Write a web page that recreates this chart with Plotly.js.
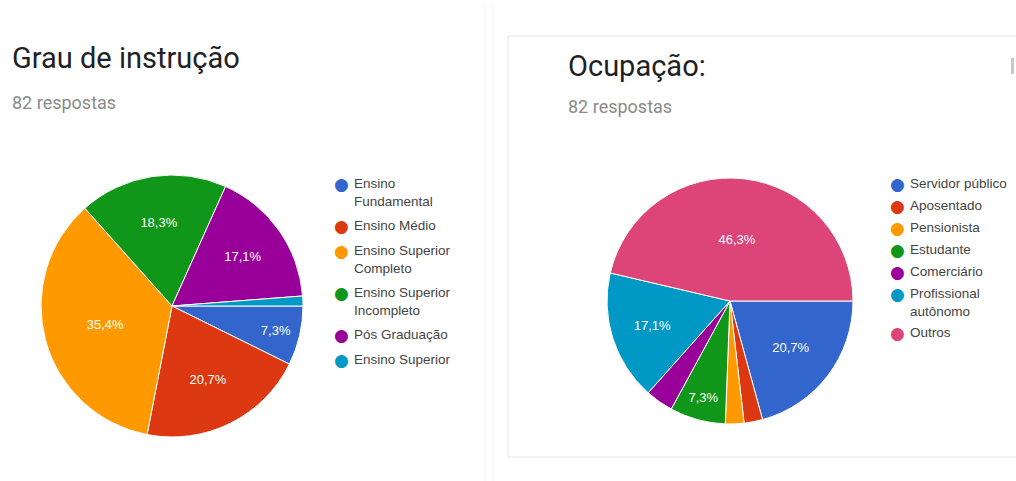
<!DOCTYPE html>
<html>
<head>
<meta charset="utf-8">
<script src="https://cdn.plot.ly/plotly-3.0.1.min.js"></script>
<style>html,body{margin:0;padding:0;background:#fff;}#chart{width:1016px;height:481px;}</style>
</head>
<body>
<div id="chart"></div>
<script>
// ---- data ----
const title1 = "Grau de instrução";
const subtitle1 = "82 respostas";
const labels1 = ["Ensino Fundamental", "Ensino Médio", "Ensino Superior Completo", "Ensino Superior Incompleto", "Pós Graduação", "Ensino Superior"];
const values1 = [6, 17, 29, 15, 14, 1];

const title2 = "Ocupação:";
const subtitle2 = "82 respostas";
const labels2 = ["Servidor público", "Aposentado", "Pensionista", "Estudante", "Comerciário", "Profissional autônomo", "Outros"];
const values2 = [17, 2, 2, 6, 3, 14, 38];

const colors1 = ["#3366cc", "#dc3912", "#ff9900", "#109618", "#990099", "#0099c6"];
const colors2 = ["#3366cc", "#dc3912", "#ff9900", "#109618", "#990099", "#0099c6", "#dd4477"];

// ---- helpers ----
const W = 1016, H = 481;
const px = x => x / W;
const py = y => 1 - y / H;

function wrap(label, maxChars) {
  const words = label.split(" ");
  const lines = [];
  let cur = "";
  words.forEach(w => {
    if (cur === "") cur = w;
    else if ((cur + " " + w).length <= maxChars) cur += " " + w;
    else { lines.push(cur); cur = w; }
  });
  if (cur) lines.push(cur);
  return lines;
}

function tmpl(values) {
  const total = values.reduce((a, b) => a + b, 0);
  return values.map(v => (v / total >= 0.05 ? "%{percent:.1%}" : ""));
}

function pieTrace(labels, values, colors, domain) {
  return {
    type: "pie",
    labels: labels,
    values: values,
    sort: false,
    direction: "clockwise",
    rotation: 90,
    domain: domain,
    marker: { colors: colors, line: { color: "#ffffff", width: 1 } },
    texttemplate: tmpl(values),
    textposition: "inside",
    insidetextorientation: "horizontal",
    textfont: { family: "Liberation Sans, Arial, sans-serif", size: 13, color: "#ffffff" },
    hoverinfo: "label+percent",
    showlegend: false
  };
}

const annotations = [];
function legend(labels, colors, xMarker, textOffset, yStart, maxChars, step) {
  let y = yStart;
  labels.forEach((lab, i) => {
    const lines = wrap(lab, maxChars);
    annotations.push({
      xref: "paper", yref: "paper", x: px(xMarker), y: py(y),
      xanchor: "center", yanchor: "middle", showarrow: false,
      text: "●", font: { size: 17, color: colors[i], family: "DejaVu Sans" }
    });
    annotations.push({
      xref: "paper", yref: "paper", x: px(xMarker + textOffset), y: py(y - 10),
      xanchor: "left", yanchor: "top", align: "left", showarrow: false,
      text: lines.join("<br>"),
      font: { size: 13.5, color: "#444444", family: "Liberation Sans, Arial, sans-serif" }
    });
    y += lines.length * 17 + step;
  });
}

function header(title, sub, x, yTitle, ySub) {
  annotations.push({
    xref: "paper", yref: "paper", x: px(x), y: py(yTitle),
    xanchor: "left", yanchor: "middle", showarrow: false,
    text: title, font: { family: "Roboto, sans-serif", size: 29, color: "#202124" }
  });
  annotations.push({
    xref: "paper", yref: "paper", x: px(x), y: py(ySub),
    xanchor: "left", yanchor: "middle", showarrow: false,
    text: sub, font: { family: "Roboto, sans-serif", size: 18, color: "#8a8a8a" }
  });
}

header(title1, subtitle1, 10, 58, 102);
header(title2, subtitle2, 566, 66, 106);
legend(labels1, colors1, 341, 11, 184, 15, 8);
legend(labels2, colors2, 897, 11, 184, 16, 5);

const data = [
  pieTrace(labels1, values1, colors1, { x: [px(41), px(303)], y: [py(437), py(175)] }),
  pieTrace(labels2, values2, colors2, { x: [px(607), px(853)], y: [py(424), py(178)] })
];

const shapes = [
  { type: "line", xref: "paper", yref: "paper", x0: px(485), x1: px(485), y0: py(6), y1: py(481), line: { color: "#f3f3f3", width: 1 } },
  { type: "line", xref: "paper", yref: "paper", x0: px(493), x1: px(493), y0: py(6), y1: py(481), line: { color: "#f3f3f3", width: 1 } },
  { type: "rect", xref: "paper", yref: "paper", x0: px(508), x1: px(1030), y0: py(457), y1: py(36), line: { color: "#e6e6e6", width: 1 } },
  { type: "rect", xref: "paper", yref: "paper", x0: px(1011), x1: px(1014), y0: py(74), y1: py(58), line: { width: 0 }, fillcolor: "#c8c8c8" }
];

const layout = {
  width: W, height: H,
  margin: { l: 0, r: 0, t: 0, b: 0 },
  paper_bgcolor: "#ffffff",
  separators: ",.",
  showlegend: false,
  annotations: annotations,
  shapes: shapes
};

Plotly.newPlot("chart", data, layout, { displayModeBar: false, staticPlot: true });
</script>
</body>
</html>
